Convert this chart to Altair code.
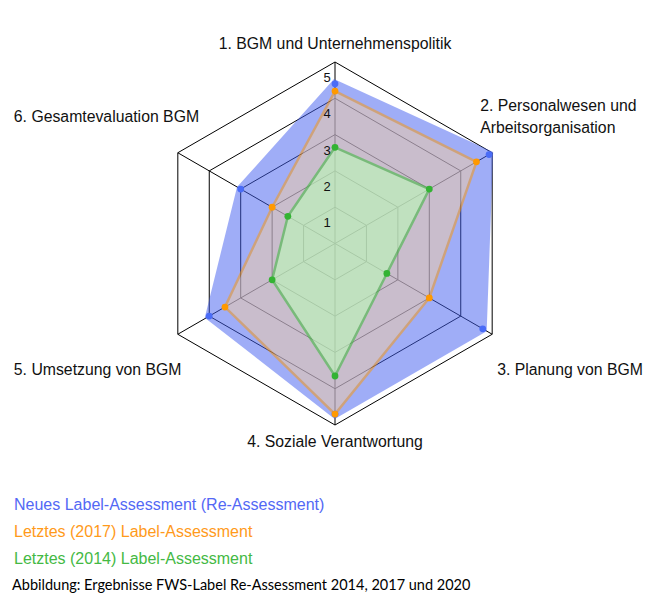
import altair as alt
import pandas as pd

# ---------------- data ----------------
categories = [
    "1. BGM und Unternehmenspolitik",
    "2. Personalwesen und\nArbeitsorganisation",
    "3. Planung von BGM",
    "4. Soziale Verantwortung",
    "5. Umsetzung von BGM",
    "6. Gesamtevaluation BGM",
]
series_names = [
    "Neues Label-Assessment (Re-Assessment)",
    "Letztes (2017) Label-Assessment",
    "Letztes (2014) Label-Assessment",
]
values_new = [4.4, 4.9, 4.7, 4.7, 4.0, 3.0]
values_2017 = [4.2, 4.5, 3.0, 4.7, 3.5, 2.0]
values_2014 = [2.65, 3.0, 1.65, 3.65, 2.0, 1.5]
ring_levels = [1, 2, 3, 4, 5]
tick_labels = ["1", "2", "3", "4", "5"]
caption = "Abbildung: Ergebnisse FWS-Label Re-Assessment 2014, 2017 und 2020"

# ---------------- layout / style ----------------
W, H = 665, 612
CX, CY, PPU = 335.0, 243.5, 36.3   # centre in px, px per unit
XDOM = [-CX / PPU, (W - CX) / PPU]
YDOM = [-(H - CY) / PPU, CY / PPU]
N = len(categories)
RMAX = max(ring_levels)
FONT = "Liberation Sans"

xs = alt.X("x:Q", scale=alt.Scale(domain=XDOM, nice=False, zero=False), axis=None)
ys = alt.Y("y:Q", scale=alt.Scale(domain=YDOM, nice=False, zero=False), axis=None)

ANG = f"2*PI*datum.idx/{N}"


def polar(chart, rfield="value"):
    return chart.transform_calculate(
        x=f"datum.{rfield}*sin({ANG})", y=f"datum.{rfield}*cos({ANG})"
    )


# ---------------- tables ----------------
series_vals = [values_new, values_2017, values_2014]
rows = []
for s, vals in zip(series_names, series_vals):
    for i, v in enumerate(vals):
        rows.append({"series": s, "idx": i, "value": v})
df = pd.DataFrame(rows)

ring_df = pd.DataFrame(
    [{"ring": r, "idx": i, "value": r} for r in ring_levels for i in range(N)]
)
spoke_df = pd.DataFrame([{"idx": i, "value": RMAX} for i in range(N)])
tick_df = pd.DataFrame(
    [{"idx": 0, "value": r, "label": t} for r, t in zip(ring_levels, tick_labels)]
)

# ---------------- grid ----------------
rings = polar(alt.Chart(ring_df)).mark_line(
    interpolate="linear-closed", color="#000000", strokeWidth=1
).encode(x=xs, y=ys, order="idx:O", detail="ring:N")

spokes = (
    alt.Chart(spoke_df)
    .transform_calculate(
        x="0", y="0",
        x2=f"datum.value*sin({ANG})", y2=f"datum.value*cos({ANG})",
    )
    .mark_rule(color="#000000", strokeWidth=1)
    .encode(x=xs, y=ys, x2="x2:Q", y2="y2:Q")
)

# ---------------- series polygons ----------------
blue_c, orange_c, green_c = "#425EF1", "#FF9900", "#44B944"

blue_poly = polar(alt.Chart(df).transform_filter(alt.datum.series == series_names[0])).mark_line(
    interpolate="linear-closed", fill=blue_c, stroke=blue_c, strokeWidth=8,
    strokeJoin="miter", opacity=0.5,
).encode(x=xs, y=ys, order="idx:O")

orange_poly = polar(alt.Chart(df).transform_filter(alt.datum.series == series_names[1])).mark_line(
    interpolate="linear-closed", fill="#F4CEA2", stroke=orange_c, strokeWidth=2.5,
    opacity=0.5,
).encode(x=xs, y=ys, order="idx:O")

green_poly = polar(alt.Chart(df).transform_filter(alt.datum.series == series_names[2])).mark_line(
    interpolate="linear-closed", fill="#BBFAB7", stroke=green_c, strokeWidth=2.5,
    opacity=0.6,
).encode(x=xs, y=ys, order="idx:O")

points = polar(alt.Chart(df)).mark_point(filled=True, size=46, opacity=1).encode(
    x=xs, y=ys,
    color=alt.Color("series:N", scale=alt.Scale(domain=series_names,
                    range=["#4A6CF7", "#FF9900", "#33B333"]), legend=None),
)

# ---------------- tick labels ----------------
ticks = polar(alt.Chart(tick_df)).mark_text(
    font=FONT, fontSize=13, color="#111111", dx=-8, dy=16, align="center", baseline="middle"
).encode(x=xs, y=ys, text="label:N")

# ---------------- category labels ----------------
label_styles = [
    dict(align="center", dx=0, dy=-18),
    dict(align="left", dx=-12, dy=-47),
    dict(align="left", dx=5, dy=36),
    dict(align="center", dx=0, dy=17),
    dict(align="left", dx=-164, dy=36),
    dict(align="left", dx=-164, dy=-36),
]
cat_layers = []
for i, (cat, st) in enumerate(zip(categories, label_styles)):
    cdf = pd.DataFrame([{"idx": i, "value": RMAX, "label": cat}])
    cat_layers.append(
        polar(alt.Chart(cdf)).mark_text(
            font=FONT, fontSize=15.8, color="#111111", baseline="middle",
            lineBreak="\n", lineHeight=22, **st
        ).encode(x=xs, y=ys, text="label:N")
    )

# ---------------- legend & caption ----------------
legend_colors = ["#5368F5", "#FF9A1A", "#44B944"]
legend_y = [505, 532, 559]
legend_layers = []
for name, col, ly in zip(series_names, legend_colors, legend_y):
    ldf = pd.DataFrame([{"label": name}])
    legend_layers.append(
        alt.Chart(ldf).mark_text(
            font=FONT, fontSize=16, color=col, align="left", baseline="middle"
        ).encode(x=alt.value(14), y=alt.value(ly), text="label:N")
    )
cap = alt.Chart(pd.DataFrame([{"label": caption}])).mark_text(
    font="Lato", fontSize=14.5, color="#000000", align="left", baseline="middle"
).encode(x=alt.value(12), y=alt.value(586), text="label:N")

chart = alt.layer(
    rings, spokes, blue_poly, orange_poly, green_poly, points, ticks,
    *cat_layers, *legend_layers, cap,
).properties(
    width=W, height=H, padding=0, autosize=alt.AutoSizeParams(type="none"),
    background="#ffffff",
).configure_view(stroke=None)

chart.save("out.html", embed_options={"renderer": "svg", "actions": False})
